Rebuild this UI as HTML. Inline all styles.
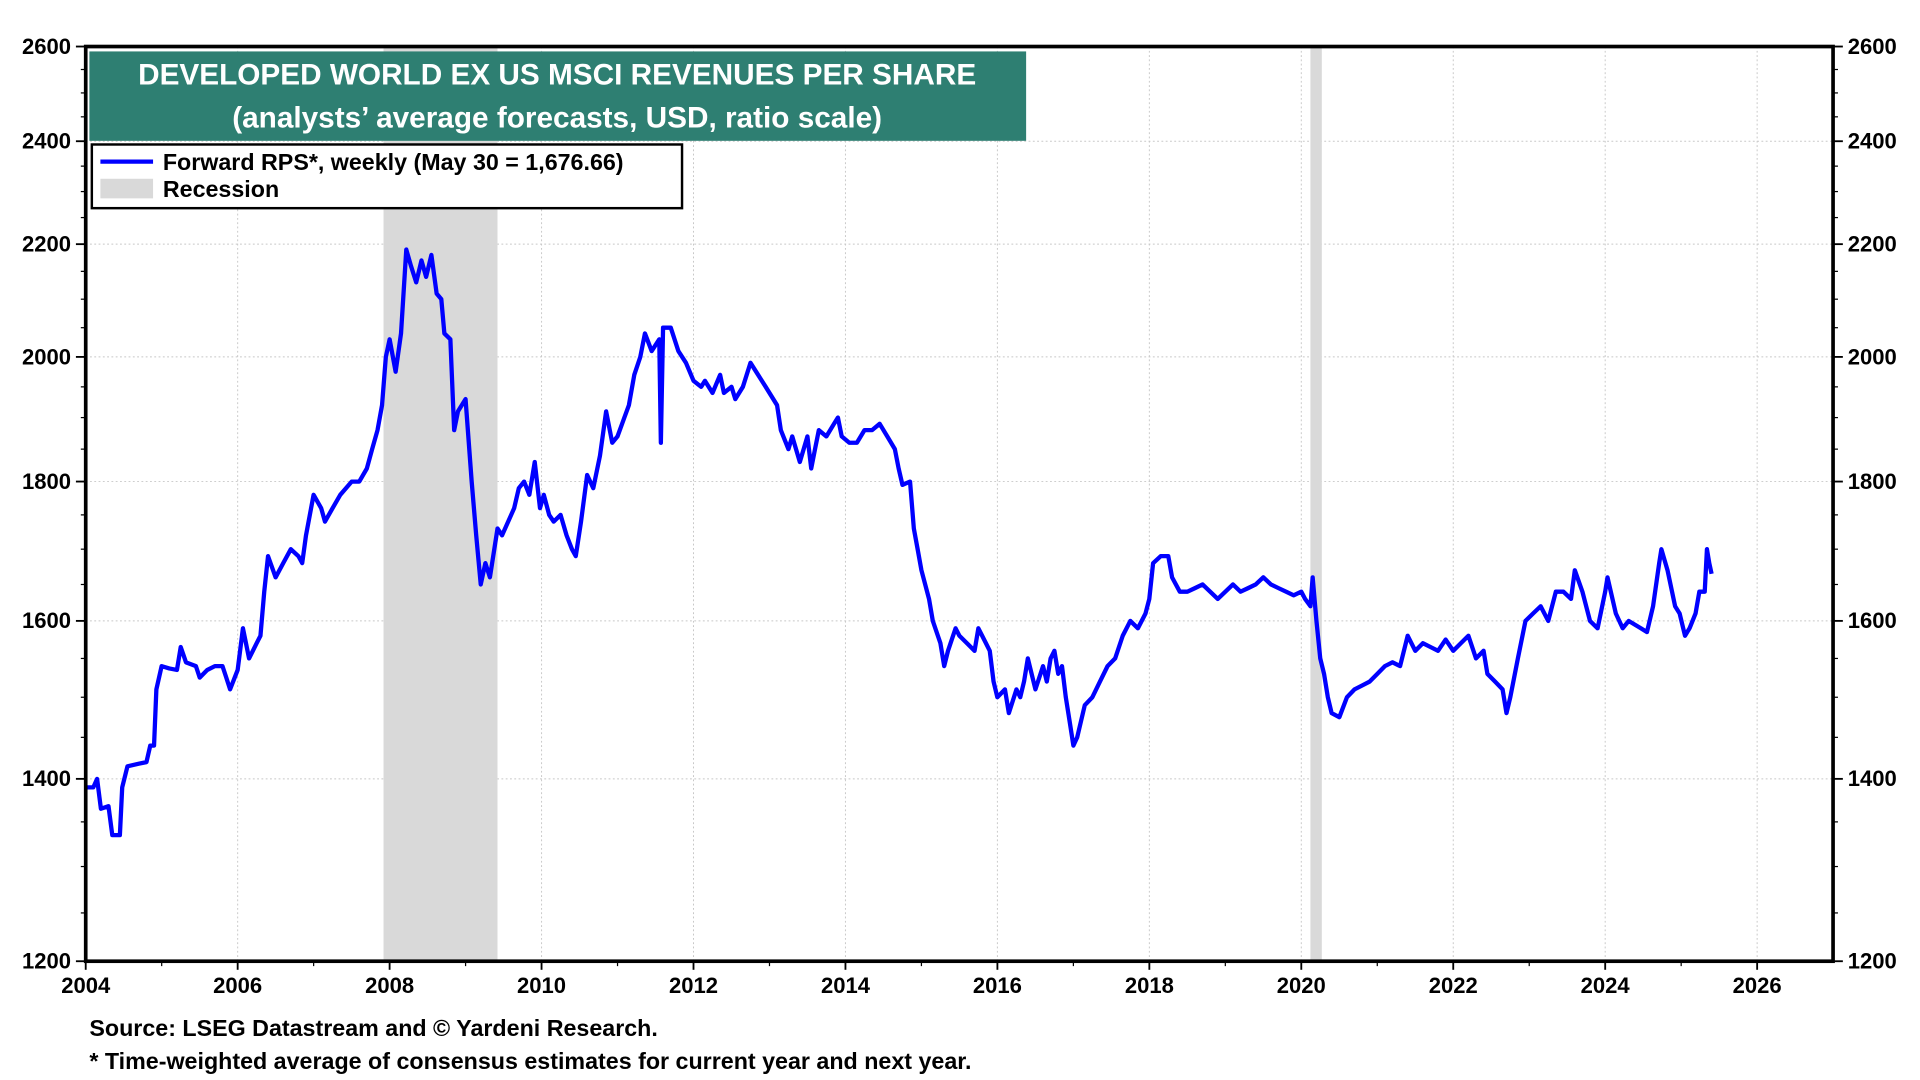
<!DOCTYPE html>
<html><head><meta charset="utf-8"><style>
html,body{margin:0;padding:0;background:#fff;}
svg{display:block;font-family:"Liberation Sans",Arial,sans-serif;font-weight:bold;}
</style></head><body>
<svg id="chart" width="1920" height="1080" viewBox="0 0 1568 882" xmlns="http://www.w3.org/2000/svg">
<g id="grid"></g>
<g id="rec"></g>
<g id="line"></g>
<rect x="70" y="38" width="1427" height="747" fill="none" stroke="#000" stroke-width="3"/>
<g id="axes"></g>
<g>
<rect x="73" y="42" width="765" height="73" fill="#2e7f72"/>
<text x="455" y="69" fill="#fff" font-size="24.3" text-anchor="middle">DEVELOPED WORLD EX US MSCI REVENUES PER SHARE</text>
<text x="455" y="104" fill="#fff" font-size="24.3" text-anchor="middle">(analysts’ average forecasts, USD, ratio scale)</text>
</g>
<g>
<rect x="75" y="118" width="482" height="52" fill="#fff" stroke="#000" stroke-width="2"/>
<line x1="82" y1="132" x2="125" y2="132" stroke="#0000ff" stroke-width="3.5"/>
<text x="133" y="139" font-size="19">Forward RPS*, weekly (May 30 = 1,676.66)</text>
<rect x="82" y="146" width="43" height="16" fill="#d9d9d9"/>
<text x="133" y="161" font-size="19">Recession</text>
</g>
<text x="73" y="846" font-size="19">Source: LSEG Datastream and © Yardeni Research.</text>
<text x="73" y="873" font-size="19">* Time-weighted average of consensus estimates for current year and next year.</text>
</svg>
<script>
const yTicks=[1200,1400,1600,1800,2000,2200,2400,2600];
const xTicks=[2004,2006,2008,2010,2012,2014,2016,2018,2020,2022,2024,2026];
const recStart=[2007.92,2020.12];
const recEnd=[2009.42,2020.27];
const dates=[2004.0,2004.1,2004.15,2004.2,2004.3,2004.35,2004.45,2004.48,2004.55,2004.7,2004.8,2004.85,2004.9,2004.93,2005.0,2005.1,2005.2,2005.25,2005.32,2005.45,2005.5,2005.6,2005.7,2005.8,2005.85,2005.9,2006.0,2006.07,2006.15,2006.25,2006.3,2006.35,2006.4,2006.5,2006.6,2006.7,2006.8,2006.85,2006.9,2007.0,2007.1,2007.15,2007.25,2007.35,2007.5,2007.6,2007.7,2007.77,2007.84,2007.9,2007.95,2008.0,2008.08,2008.15,2008.22,2008.28,2008.35,2008.42,2008.48,2008.55,2008.62,2008.68,2008.72,2008.8,2008.85,2008.9,2009.0,2009.08,2009.14,2009.2,2009.26,2009.32,2009.42,2009.48,2009.56,2009.64,2009.7,2009.77,2009.84,2009.91,2009.98,2010.03,2010.1,2010.16,2010.25,2010.33,2010.4,2010.45,2010.52,2010.6,2010.68,2010.77,2010.85,2010.93,2011.0,2011.09,2011.15,2011.22,2011.3,2011.36,2011.45,2011.5,2011.55,2011.57,2011.6,2011.7,2011.8,2011.9,2012.0,2012.1,2012.15,2012.25,2012.35,2012.4,2012.5,2012.55,2012.65,2012.75,2012.85,2012.95,2013.0,2013.1,2013.15,2013.25,2013.3,2013.4,2013.5,2013.55,2013.6,2013.65,2013.75,2013.85,2013.9,2013.95,2014.05,2014.15,2014.25,2014.35,2014.45,2014.55,2014.65,2014.7,2014.75,2014.85,2014.9,2014.95,2015.0,2015.1,2015.15,2015.25,2015.3,2015.35,2015.45,2015.5,2015.6,2015.7,2015.75,2015.85,2015.9,2015.95,2016.0,2016.1,2016.15,2016.25,2016.3,2016.35,2016.4,2016.5,2016.6,2016.65,2016.7,2016.75,2016.8,2016.85,2016.9,2016.95,2017.0,2017.05,2017.15,2017.25,2017.35,2017.45,2017.55,2017.65,2017.75,2017.85,2017.95,2018.0,2018.05,2018.15,2018.25,2018.3,2018.4,2018.5,2018.6,2018.7,2018.8,2018.9,2019.0,2019.1,2019.2,2019.3,2019.4,2019.5,2019.6,2019.7,2019.8,2019.9,2020.0,2020.05,2020.12,2020.15,2020.2,2020.25,2020.3,2020.35,2020.4,2020.5,2020.6,2020.7,2020.8,2020.9,2021.0,2021.1,2021.2,2021.3,2021.4,2021.5,2021.6,2021.7,2021.8,2021.9,2022.0,2022.1,2022.2,2022.3,2022.4,2022.45,2022.55,2022.65,2022.7,2022.75,2022.85,2022.95,2023.05,2023.15,2023.25,2023.35,2023.45,2023.55,2023.6,2023.7,2023.8,2023.9,2024.0,2024.03,2024.14,2024.23,2024.31,2024.47,2024.55,2024.63,2024.71,2024.74,2024.82,2024.92,2024.98,2025.05,2025.11,2025.19,2025.24,2025.31,2025.34,2025.37,2025.4];
const values=[1390,1390,1400,1365,1368,1335,1335,1390,1415,1418,1420,1440,1440,1510,1540,1537,1535,1565,1545,1540,1525,1535,1540,1540,1525,1510,1535,1590,1550,1570,1580,1640,1690,1660,1680,1700,1690,1680,1720,1780,1760,1740,1760,1780,1800,1800,1820,1850,1880,1920,2000,2030,1975,2040,2190,2160,2130,2170,2140,2180,2110,2100,2040,2030,1880,1910,1930,1800,1720,1650,1680,1660,1730,1720,1740,1760,1790,1800,1780,1830,1760,1780,1750,1740,1750,1720,1700,1690,1740,1810,1790,1840,1910,1860,1870,1900,1920,1970,2000,2040,2010,2020,2030,1860,2050,2050,2010,1990,1960,1950,1960,1940,1970,1940,1950,1930,1950,1990,1970,1950,1940,1920,1880,1850,1870,1830,1870,1820,1850,1880,1870,1890,1900,1870,1860,1860,1880,1880,1890,1870,1850,1820,1795,1800,1730,1700,1670,1630,1600,1570,1540,1560,1590,1580,1570,1560,1590,1570,1560,1520,1500,1510,1480,1510,1500,1520,1550,1510,1540,1520,1550,1560,1530,1540,1500,1470,1440,1450,1490,1500,1520,1540,1550,1580,1600,1590,1610,1630,1680,1690,1690,1660,1640,1640,1645,1650,1640,1630,1640,1650,1640,1645,1650,1660,1650,1645,1640,1635,1640,1630,1620,1660,1600,1550,1530,1500,1480,1475,1500,1510,1515,1520,1530,1540,1545,1540,1580,1560,1570,1565,1560,1575,1560,1570,1580,1550,1560,1530,1520,1510,1480,1500,1550,1600,1610,1620,1600,1640,1640,1630,1670,1640,1600,1590,1640,1660,1610,1590,1600,1590,1585,1620,1680,1700,1670,1620,1610,1580,1590,1610,1640,1640,1700,1680,1665];
const NS="http://www.w3.org/2000/svg";
const L=70,R=1497,T=38,B=785,x0=2004,pxYear=1365/22;
function xs(d){return L+(d-x0)*pxYear;}
function ys(v){return B-(Math.log(v/1200)/Math.log(2600/1200))*(B-T);}
function mk(tag,attrs,parent){const e=document.createElementNS(NS,tag);for(const k in attrs)e.setAttribute(k,attrs[k]);parent.appendChild(e);return e;}
const grid=document.getElementById('grid'),axes=document.getElementById('axes'),rec=document.getElementById('rec'),lineG=document.getElementById('line');
yTicks.forEach(v=>{
  const y=ys(v);
  const g=mk('line',{x1:L,x2:R,y1:y,y2:y,stroke:'#c8c8c8','stroke-width':0.8,'stroke-dasharray':'1.5,2'},grid);
  
  
  [[L-8,L],[R,R+8]].forEach(p=>{const t=mk('line',{x1:p[0],x2:p[1],y1:y,y2:y,stroke:'#000','stroke-width':1.5},axes);
  
  });
  const a=mk('text',{x:L-12,y:y+6,'font-size':18,'text-anchor':'end'},axes);a.textContent=v;
  
  
  const b=mk('text',{x:R+12,y:y+6,'font-size':18,'text-anchor':'start'},axes);b.textContent=v;
  
  
});
for(let v=1250;v<2600;v+=50){if(v%200===0)continue;const y=ys(v);
  [[L-4,L],[R,R+4]].forEach(p=>{const t=mk('line',{x1:p[0],x2:p[1],y1:y,y2:y,stroke:'#000','stroke-width':1},axes);
  
  });}
xTicks.forEach(d=>{
  const x=xs(d);
  if(d>x0){const g=mk('line',{x1:x,x2:x,y1:T,y2:B,stroke:'#c8c8c8','stroke-width':0.8,'stroke-dasharray':'1.5,2'},grid);
  
  }
  const t=mk('line',{x1:x,x2:x,y1:B,y2:B+7,stroke:'#000','stroke-width':1.5},axes);
  
  
  const l=mk('text',{x:x,y:B+26,'font-size':18,'text-anchor':'middle'},axes);l.textContent=d;
  
  
});
for(let d=2005;d<2027;d+=2){const x=xs(d);const t=mk('line',{x1:x,x2:x,y1:B,y2:B+4,stroke:'#000','stroke-width':1},axes);
  
  }
recStart.forEach((s,i)=>{
  const r=mk('rect',{x:xs(s),y:T,width:xs(recEnd[i])-xs(s),height:B-T,fill:'#d9d9d9'},rec);
  
  
});
const pts=dates.map((d,i)=>xs(d).toFixed(1)+','+ys(values[i]).toFixed(1)).join(' ');
const pl=mk('polyline',{points:pts,fill:'none',stroke:'#0000ff','stroke-width':3.5,'stroke-linejoin':'round'},lineG);


</script>
</body></html>
